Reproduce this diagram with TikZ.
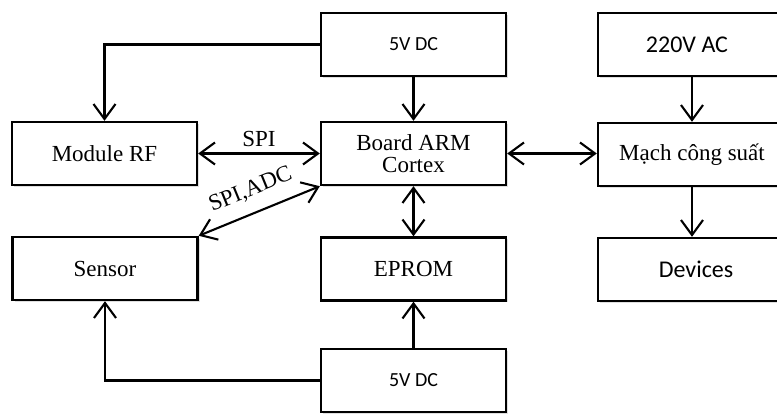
\documentclass[tikz,border=0pt]{standalone}
\usepackage{fontspec}
\setmainfont{Liberation Serif}
\newfontfamily\carlito{Carlito}
\usepackage{tikz}
\usetikzlibrary{shapes,arrows.meta,shadows}
\tikzset{
  block/.style={draw, line width=2.4pt, fill=white, inner sep=0pt,
    minimum width=185pt, minimum height=63pt,
    drop shadow={shadow xshift=2pt, shadow yshift=-2pt, opacity=0.25}},
  wide/.style={block, minimum width=188pt},
  link/.style={line width=2.1pt, arrows={-Straight Barb[length=15pt,width=22pt]}},
  blink/.style={link, arrows={Straight Barb[length=15pt,width=22pt]-Straight Barb[length=15pt,width=22pt]}},
  tms/.style={font=\fontsize{23}{26}\selectfont},
  cal/.style={font=\carlito\fontsize{24}{28}\selectfont},
  small/.style={font=\carlito\fontsize{20}{24}\selectfont}
}

\begin{document}
\begin{tikzpicture}[x=1pt, y=-1pt]
     \useasboundingbox (0,0) rectangle (777,414);
     \node [block, small] (dcTop) at (413.5,44.5) {5V DC};
     \node [block, tms] (rf) at (104.5,153.5) {Module RF};
     \node [block, tms, align=center] (arm) at (413.5,153.5) {Board ARM\\[-4pt]Cortex};
     \node [block, tms] (sensor) at (105,268.5) {Sensor};
     \node [block, tms] (eprom) at (413.5,269) {EPROM};
     \node [block, small] (dcBot) at (413.5,380.5) {5V DC};
     \node [wide, cal] (ac) at (692,44.5) {\hspace*{-10pt}220V AC};
     \node [wide, tms] (power) at (692,154.5) {Mạch công suất};
     \node [wide, cal] (dev) at (692,269.5) {\hspace*{8pt}Devices};
     \draw [link] (dcTop.west) -| (rf.north);
     \draw [link] (dcTop) -- (arm);
     \draw [blink] (rf.east) -- (arm.west) node [midway, above, tms, yshift=2pt] {SPI};
     \draw [blink] (arm.south west) -- (sensor.north east)
          node [pos=0.5, sloped, above, tms, yshift=9pt] {SPI,ADC};
     \draw [blink] (arm) -- (eprom);
     \draw [blink] (arm.east) -- (power.west |- arm.east);
     \draw [link] (ac) -- (power);
     \draw [link] (power) -- (dev);
     \draw [link] (dcBot) -- (eprom);
     \draw [link] (dcBot.west) -| (sensor.south);
\end{tikzpicture}
\end{document}
